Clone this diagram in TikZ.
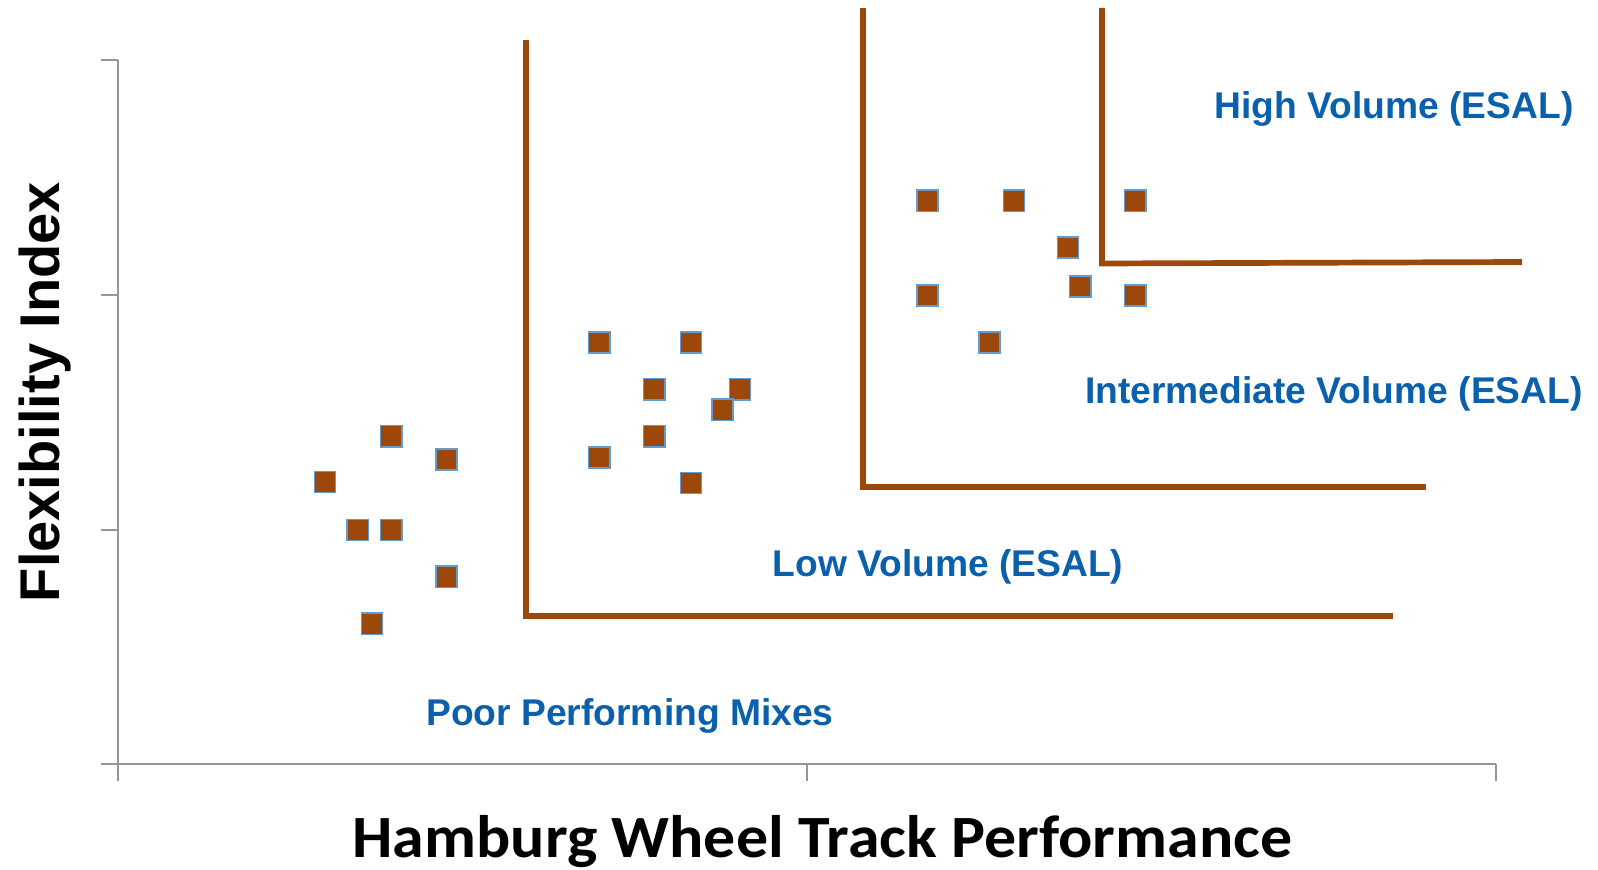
\documentclass[tikz,border=0pt]{standalone}
\usepackage{fontspec}
\setmainfont{Liberation Sans}
\newfontfamily\calib{Carlito}
\definecolor{brownline}{RGB}{155,72,10}
\definecolor{markedge}{RGB}{96,156,212}
\definecolor{labelblue}{RGB}{10,96,172}
\definecolor{axisgray}{RGB}{150,150,150}
\tikzset{
  marker/.style={draw=markedge, fill=brownline, line width=0.75pt, minimum size=10.6pt, inner sep=0pt, outer sep=0pt, rectangle},
  axisline/.style={draw=axisgray, line width=1pt},
  bound/.style={draw=brownline, line width=2.85pt},
  region/.style={text=labelblue, font=\fontsize{18.6pt}{22pt}\selectfont\bfseries, anchor=base, inner sep=0pt},
}
\begin{document}
\begin{tikzpicture}[x=0.5pt, y=-0.5pt]
\useasboundingbox (0,0) rectangle (1598,870);
% axes
\draw[axisline] (118,60) -- (118,781);
\draw[axisline] (101,764) -- (1496,764);
\foreach \yy in {60,295,530} \draw[axisline] (101,\yy) -- (118,\yy);
\foreach \xx in {807,1496} \draw[axisline] (\xx,764) -- (\xx,781);
% boundaries
\draw[bound] (526,40) -- (526,616) -- (1393,616);
\draw[bound] (863,8) -- (863,487) -- (1426,487);
\draw[bound] (1102,8) -- (1102,263.5) -- (1522,262);
% markers group 1
\node[marker] (a1) at (325.1,482.0) {};
\node[marker] (a2) at (391.3,436.2) {};
\node[marker] (a3) at (446.4,459.6) {};
\node[marker] (a4) at (357.7,529.9) {};
\node[marker] (a5) at (391.3,529.9) {};
\node[marker] (a6) at (446.4,576.8) {};
\node[marker] (a7) at (372.0,623.7) {};
% group 2
\node[marker] (b1) at (599.2,342.4) {};
\node[marker] (b2) at (690.9,342.4) {};
\node[marker] (b3) at (654.3,389.3) {};
\node[marker] (b4) at (739.9,389.3) {};
\node[marker] (b5) at (722.5,409.7) {};
\node[marker] (b6) at (654.3,436.2) {};
\node[marker] (b7) at (599.2,457.6) {};
\node[marker] (b8) at (690.9,483.1) {};
% group 3
\node[marker] (c1) at (927.4,200.8) {};
\node[marker] (c2) at (1014.0,200.8) {};
\node[marker] (c3) at (1135.3,200.8) {};
\node[marker] (c4) at (1068.0,247.6) {};
\node[marker] (c5) at (927.4,295.5) {};
\node[marker] (c6) at (1080.2,286.4) {};
\node[marker] (c7) at (1135.3,295.5) {};
\node[marker] (c8) at (989.5,342.4) {};
% region labels
\node[region] (high) at (1394,119) {High Volume (ESAL)};
\node[region] (inter) at (1334,404) {Intermediate Volume (ESAL)};
\node[region] (low) at (948,576) {Low Volume (ESAL)};
\node[region] (poor) at (630,725) {Poor Performing Mixes};
% axis titles
\node[anchor=base, inner sep=0pt, xscale=1.065, font=\calib\fontsize{30pt}{36pt}\selectfont\bfseries] (xlab) at (822.5,857) {Hamburg Wheel Track Performance};
\node[anchor=base, inner sep=0pt, rotate=90, font=\fontsize{28pt}{34pt}\selectfont\bfseries] (ylab) at (59,392) {Flexibility Index};
\end{tikzpicture}
\end{document}
